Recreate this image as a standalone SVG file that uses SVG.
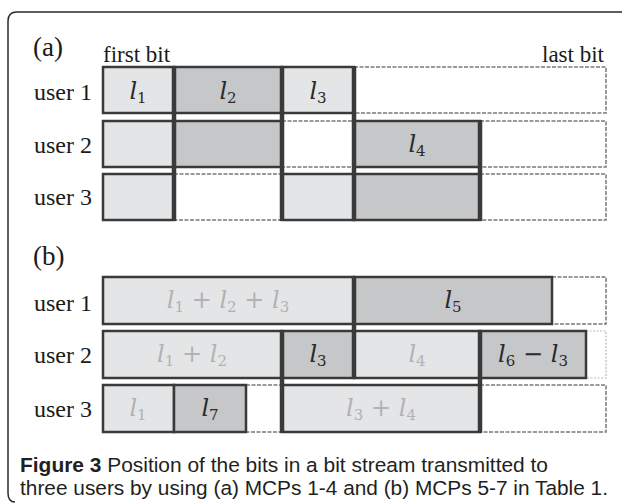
<svg xmlns="http://www.w3.org/2000/svg" width="622" height="504" viewBox="0 0 622 504">
<style>
.lab{font-family:"Liberation Serif","Times New Roman",serif;font-size:24px;fill:#1a1a1a}
.hdr{font-family:"Liberation Serif","Times New Roman",serif;font-size:23px;fill:#1a1a1a}
.sec{font-family:"Liberation Serif","Times New Roman",serif;font-size:27px;fill:#1a1a1a}
.lt{fill:#e4e5e6;stroke:#3a3a3a;stroke-width:2.5}
.dk{fill:#c6c7c8;stroke:#3a3a3a;stroke-width:2.5}
.wh{fill:#ffffff;stroke:#7a7a7a;stroke-width:1.5;stroke-dasharray:4 1.5}
.wh2{fill:#ffffff;stroke:#b8b8b8;stroke-width:1.2;stroke-dasharray:2 1.5}
.m{font-family:"DejaVu Serif","Liberation Serif",serif;font-size:24px;text-anchor:middle}
.mi{font-style:italic}
.md{fill:#2a2a2a}
.mg{fill:#b2b2b2}
.thick{stroke:#3a3a3a;stroke-width:4.5;fill:none}
.cap{font-family:"Liberation Sans",Arial,sans-serif;font-size:20.5px;fill:#231f20}
</style>
<path d="M622,12 H17 Q8,12 8,21 V493 Q8,502 15,502" fill="none" stroke="#2a2a2a" stroke-width="1.5"/>

<text class="sec" x="33" y="56">(a)</text>
<text class="hdr" x="103" y="62">first bit</text>
<text class="hdr" x="604" y="62" text-anchor="end">last bit</text>
<text class="lab" x="34" y="100">user 1</text>
<text class="lab" x="34" y="153">user 2</text>
<text class="lab" x="34" y="205">user 3</text>

<g id="a-user1">
<rect class="wh" x="354" y="67" width="252" height="46"/>
<rect class="lt" x="103" y="67" width="71" height="46"/>
<rect class="dk" x="174" y="67" width="108" height="46"/>
<rect class="lt" x="282" y="67" width="72" height="46"/>
<text class="m md" x="138" y="99"><tspan class="mi">l</tspan><tspan font-size="15" dy="4">1</tspan></text>
<text class="m md" x="228" y="99"><tspan class="mi">l</tspan><tspan font-size="15" dy="4">2</tspan></text>
<text class="m md" x="318" y="99"><tspan class="mi">l</tspan><tspan font-size="15" dy="4">3</tspan></text>
</g>
<g id="a-user2">
<rect class="wh" x="480" y="121" width="126" height="46"/>
<rect class="wh" x="282" y="121" width="72" height="46"/>
<rect class="lt" x="103" y="121" width="71" height="46"/>
<rect class="dk" x="174" y="121" width="108" height="46"/>
<rect class="dk" x="354" y="121" width="126" height="46"/>
<text class="m md" x="417" y="152"><tspan class="mi">l</tspan><tspan font-size="15" dy="4">4</tspan></text>
</g>
<g id="a-user3">
<rect class="wh" x="480" y="174" width="126" height="46"/>
<rect class="wh" x="174" y="174" width="108" height="46"/>
<rect class="lt" x="103" y="174" width="71" height="46"/>
<rect class="lt" x="282" y="174" width="72" height="46"/>
<rect class="dk" x="354" y="174" width="126" height="46"/>
</g>

<text class="sec" x="33" y="265">(b)</text>
<text class="lab" x="34" y="311">user 1</text>
<text class="lab" x="34" y="363">user 2</text>
<text class="lab" x="34" y="417">user 3</text>

<g id="b-user1">
<rect class="wh" x="552" y="277" width="54" height="47"/>
<rect class="lt" x="103" y="277" width="251" height="47"/>
<rect class="dk" x="354" y="277" width="198" height="47"/>
<text class="m mg" x="228" y="308"><tspan class="mi">l</tspan><tspan font-size="15" dy="4">1</tspan><tspan dy="-4"> + </tspan><tspan class="mi">l</tspan><tspan font-size="15" dy="4">2</tspan><tspan dy="-4"> + </tspan><tspan class="mi">l</tspan><tspan font-size="15" dy="4">3</tspan></text>
<text class="m md" x="453" y="308"><tspan class="mi">l</tspan><tspan font-size="15" dy="4">5</tspan></text>
</g>
<g id="b-user2">
<rect class="wh2" x="586" y="331" width="20" height="47"/>
<rect class="lt" x="103" y="331" width="179" height="47"/>
<rect class="dk" x="282" y="331" width="72" height="47"/>
<rect class="lt" x="354" y="331" width="126" height="47"/>
<rect class="dk" x="480" y="331" width="106" height="47"/>
<text class="m mg" x="192" y="362"><tspan class="mi">l</tspan><tspan font-size="15" dy="4">1</tspan><tspan dy="-4"> + </tspan><tspan class="mi">l</tspan><tspan font-size="15" dy="4">2</tspan></text>
<text class="m md" x="318" y="362"><tspan class="mi">l</tspan><tspan font-size="15" dy="4">3</tspan></text>
<text class="m mg" x="417" y="362"><tspan class="mi">l</tspan><tspan font-size="15" dy="4">4</tspan></text>
<text class="m md" x="533" y="362"><tspan class="mi">l</tspan><tspan font-size="15" dy="4">6</tspan><tspan dy="-4"> − </tspan><tspan class="mi">l</tspan><tspan font-size="15" dy="4">3</tspan></text>
</g>
<g id="b-user3">
<rect class="wh" x="480" y="385" width="126" height="47"/>
<rect class="wh" x="246" y="385" width="36" height="47"/>
<rect class="lt" x="103" y="385" width="71" height="47"/>
<rect class="dk" x="174" y="385" width="72" height="47"/>
<rect class="lt" x="282" y="385" width="198" height="47"/>
<text class="m mg" x="138" y="416"><tspan class="mi">l</tspan><tspan font-size="15" dy="4">1</tspan></text>
<text class="m md" x="210" y="416"><tspan class="mi">l</tspan><tspan font-size="15" dy="4">7</tspan></text>
<text class="m mg" x="381" y="416"><tspan class="mi">l</tspan><tspan font-size="15" dy="4">3</tspan><tspan dy="-4"> + </tspan><tspan class="mi">l</tspan><tspan font-size="15" dy="4">4</tspan></text>
</g>

<g id="connectors">
<line class="thick" x1="174" y1="66" x2="174" y2="221"/>
<line class="thick" x1="282" y1="66" x2="282" y2="221"/>
<line class="thick" x1="354" y1="66" x2="354" y2="221"/>
<line class="thick" x1="480" y1="120" x2="480" y2="221"/>
<line class="thick" x1="354" y1="276" x2="354" y2="379"/>
<line class="thick" x1="282" y1="330" x2="282" y2="433"/>
<line class="thick" x1="480" y1="330" x2="480" y2="433"/>
</g>

<text class="cap" x="20" y="472" textLength="528" lengthAdjust="spacingAndGlyphs"><tspan font-weight="bold">Figure 3</tspan> Position of the bits in a bit stream transmitted to</text>
<text class="cap" x="20" y="495" textLength="588" lengthAdjust="spacingAndGlyphs">three users by using (a) MCPs 1-4 and (b) MCPs 5-7 in Table 1.</text>
</svg>
